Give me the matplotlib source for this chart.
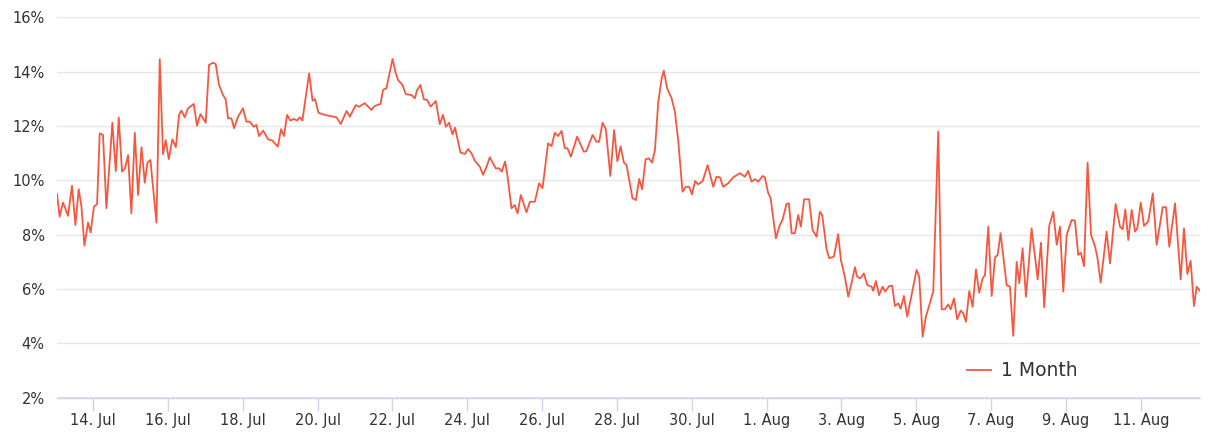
import matplotlib
matplotlib.use("Agg")
import matplotlib.pyplot as plt
import pandas as pd

# ---- data ----
start_time = "2023-07-13 00:00"
hours_since_start = [
    0.9, 2.6, 4.8, 8.0, 10.5, 12.7, 14.8, 16.6, 18.5, 20.8, 22.5, 24.6, 26.6, 28.3, 30.4, 32.6,
    36.4, 38.6, 40.5, 42.6, 44.5, 46.5, 48.6, 50.8, 52.9, 55.1, 57.2, 58.9, 60.8, 64.7, 66.8,
    68.9, 70.6, 72.6, 74.9, 77.1, 79.2, 80.7, 82.8, 84.9, 88.6, 90.7, 92.9, 96.3, 98.4, 101.0,
    102.7, 104.8, 107.4, 109.1, 110.6, 112.8, 114.5, 117.0, 120.2, 122.4, 124.5, 127.1, 128.8,
    130.5, 133.1, 136.3, 139.1, 142.5, 144.6, 146.5, 148.5, 150.6, 152.8, 154.9, 156.6, 158.3,
    162.6, 164.8, 166.4, 168.6, 172.6, 180.2, 182.9, 186.6, 188.7, 192.5, 194.6, 198.3, 202.6,
    204.7, 208.4, 210.0, 212.2, 216.1, 218.2, 219.7, 222.5, 224.6, 228.3, 230.4, 231.9, 234.0,
    236.2, 238.3, 240.5, 243.9, 246.4, 248.5, 250.3, 252.4, 254.6, 256.2, 259.7, 262.5, 264.6,
    266.8, 268.9, 272.1, 274.2, 276.4, 278.5, 282.3, 284.5, 286.2, 288.3, 289.6, 292.4, 294.5,
    296.3, 298.4, 302.0, 304.2, 307.4, 310.1, 312.3, 315.9, 318.1, 320.2, 322.3, 324.5, 326.6,
    328.3, 330.5, 334.5, 338.8, 340.5, 344.4, 346.9, 348.6, 350.8, 352.9, 355.8, 358.2, 360.3,
    362.4, 364.5, 366.2, 370.0, 372.2, 374.3, 376.2, 378.4, 380.5, 382.6, 384.4, 386.5, 388.6,
    390.1, 392.2, 395.1, 397.2, 399.3, 402.1, 404.2, 406.4, 408.1, 410.2, 412.1, 415.0, 418.2,
    421.8, 423.9, 426.1, 428.2, 431.4, 434.6, 438.9, 442.1, 444.2, 446.4, 448.5, 450.6, 453.5,
    454.9, 457.0, 458.6, 462.0, 464.5, 466.3, 468.8, 470.3, 472.1, 474.2, 476.3, 478.0, 480.1,
    483.3, 485.5, 488.1, 490.2, 491.7, 494.5, 496.2, 499.2, 501.9, 503.7, 506.2, 508.4, 510.5,
    512.7, 514.1, 516.3, 518.4, 520.6, 523.4, 524.4, 526.1, 528.2, 530.4, 532.1, 534.7, 536.6,
    538.3, 540.4, 542.0, 544.1, 546.2, 549.0, 552.2, 553.9, 556.1, 558.2, 560.8, 562.9, 566.1,
    568.3, 570.4, 572.5, 574.1, 576.2, 578.3, 580.5, 582.1, 583.9, 586.0, 588.2, 590.3, 592.4,
    594.6, 596.1, 598.2, 600.4, 602.5, 604.2, 606.1, 610.0, 612.1, 614.2, 616.4, 618.1, 620.2,
    622.4, 626.0, 629.9, 632.0, 634.1, 637.3, 639.9, 642.1, 644.2, 646.3, 648.5, 651.7, 653.8,
    655.9, 657.6, 659.6, 661.9, 664.1, 666.6, 668.1, 670.3, 674.1, 676.3, 679.9, 682.7, 684.4,
    686.1, 688.0, 690.2, 692.3, 693.8, 696.0, 698.1, 700.8, 703.7, 706.2, 710.1, 712.2, 714.3,
    718.0, 721.6, 723.7, 725.9, 728.0, 730.1, 731.9, 734.0,
]
one_month_pct = [
    9.50, 8.66, 9.18, 8.69, 9.80, 8.35, 9.67, 9.03, 7.59, 8.44, 8.08, 9.03, 9.12, 11.73, 11.67, 8.97,
    12.12, 10.34, 12.31, 10.32, 10.44, 10.93, 8.78, 11.75, 9.46, 11.22, 9.91, 10.65, 10.75, 8.44, 14.46,
    10.96, 11.48, 10.78, 11.51, 11.22, 12.41, 12.57, 12.32, 12.65, 12.81, 12.01, 12.44, 12.12, 14.25, 14.33,
    14.28, 13.51, 13.14, 12.98, 12.28, 12.28, 11.92, 12.34, 12.65, 12.16, 12.16, 11.97, 12.04,
    11.63, 11.83, 11.51, 11.46, 11.24, 11.88, 11.63, 12.41, 12.20, 12.26, 12.20, 12.32, 12.20,
    13.94, 12.93, 12.99, 12.49, 12.41, 12.32, 12.07, 12.55, 12.34, 12.77, 12.71, 12.84, 12.59,
    12.74, 12.81, 13.33, 13.39, 14.47, 13.94, 13.69, 13.51, 13.17, 13.14, 13.02, 13.33, 13.51,
    12.98, 12.96, 12.71, 12.92, 12.07, 12.41, 11.97, 12.12, 11.69, 11.94, 11.02, 10.97, 11.15,
    10.99, 10.72, 10.50, 10.20, 10.50, 10.85, 10.44, 10.44, 10.32, 10.69, 10.26, 8.97, 9.09,
    8.78, 9.46, 8.82, 9.21, 9.21, 9.89, 9.71, 11.36, 11.26, 11.75, 11.63, 11.82, 11.18,
    11.18, 10.87, 11.61, 11.05, 11.08, 11.67, 11.42, 11.42, 12.12, 11.88, 10.16, 11.85, 10.70,
    11.25, 10.65, 10.56, 9.34, 9.27, 10.05, 9.67, 10.77, 10.81, 10.65, 11.12, 12.84, 13.72,
    14.04, 13.39, 13.02, 12.53, 11.48, 9.58, 9.76, 9.76, 9.48, 9.97, 9.85, 9.97, 10.56,
    9.76, 10.13, 10.11, 9.76, 9.89, 10.11, 10.26, 10.13, 10.35, 9.95, 10.04, 9.95, 10.16,
    10.11, 9.54, 9.34, 7.86, 8.35, 8.56, 9.13, 9.15, 8.05, 8.05, 8.72, 8.29, 9.30,
    9.30, 8.17, 7.92, 8.84, 8.72, 7.46, 7.13, 7.19, 8.02, 7.06, 6.45, 5.71, 6.21,
    6.80, 6.45, 6.39, 6.57, 6.14, 6.08, 5.93, 6.29, 5.77, 6.08, 5.90, 6.11, 6.11,
    5.37, 5.47, 5.27, 5.74, 4.98, 5.77, 6.70, 6.45, 4.24, 4.98, 5.49, 5.90, 11.79,
    5.25, 5.25, 5.43, 5.25, 5.65, 4.88, 5.20, 5.10, 4.79, 5.92, 5.34, 6.72, 5.86,
    6.39, 6.51, 8.29, 5.74, 7.16, 7.25, 8.05, 6.14, 6.08, 4.27, 7.00, 6.21, 7.50,
    5.71, 8.23, 6.35, 7.70, 5.32, 8.32, 8.84, 7.62, 8.29, 5.90, 7.99, 8.54, 8.51,
    7.25, 7.33, 6.84, 10.65, 7.99, 7.58, 7.19, 6.23, 8.11, 6.94, 9.13, 8.29, 8.20,
    8.93, 7.80, 8.91, 8.11, 8.23, 9.18, 8.32, 8.48, 9.52, 7.62, 9.01, 9.01, 7.55,
    9.15, 6.35, 8.23, 6.55, 7.04, 5.37, 6.08, 5.93,
]
series_name = "1 Month"
tick_start, tick_end = "2023-07-14", "2023-08-11"
y_ticks = [2, 4, 6, 8, 10, 12, 14, 16]

# ---- plot ----
times = pd.Timestamp(start_time) + pd.to_timedelta(hours_since_start, unit="h")

fig = plt.figure(figsize=(12.15, 4.38), dpi=100)
ax = fig.add_axes([57 / 1215, 1 - 397.5 / 438, (1200 - 57) / 1215, (397.5 - 17.4) / 438])

line_color = "#f5573f"
ax.plot(times, one_month_pct, color=line_color, lw=1.3, label=series_name, zorder=3,
        solid_joinstyle="round")

ax.set_xlim(times[0], times[-1])
ax.set_ylim(2, 16)

ax.set_yticks(y_ticks)
ax.set_yticklabels([f"{v}%" for v in y_ticks])
ax.grid(axis="y", color="#e6e6e6", lw=1.0)
ax.set_axisbelow(True)

xt = pd.date_range(tick_start, tick_end, freq="2D")
ax.set_xticks(xt)
ax.set_xticklabels([f"{d.day}. {d.strftime('%b')}" for d in xt])

for s in ["top", "right", "left"]:
    ax.spines[s].set_visible(False)
ax.spines["bottom"].set_color("#ccd6eb")
ax.spines["bottom"].set_linewidth(1.0)

ax.tick_params(axis="y", length=0, pad=9, labelsize=10.5, labelcolor="#333333")
ax.tick_params(axis="x", length=9, width=1.0, color="#ccd6eb", pad=2,
               labelsize=10.5, labelcolor="#333333")

leg = ax.legend(loc="center", bbox_to_anchor=(1022 / 1215, 1 - 371 / 438),
                bbox_transform=fig.transFigure, frameon=False, fontsize=13.5,
                handlelength=1.3, handletextpad=0.5)
for t in leg.get_texts():
    t.set_color("#333333")

fig.savefig("out.png", dpi=100)
